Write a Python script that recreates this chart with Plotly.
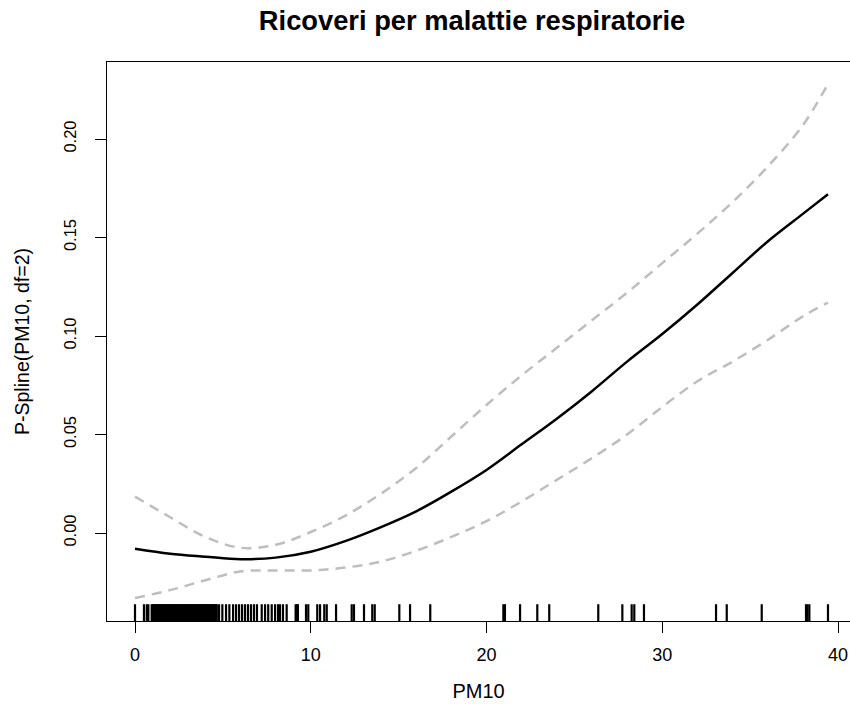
import plotly.graph_objects as go

# Smooth term for PM10 (penalised spline, df=2) with pointwise confidence band
pm10_grid = [0, 2, 4, 6, 8, 10, 12, 14, 16, 18, 20, 22, 24, 26, 28, 30, 32, 34, 36, 38, 39.43]
fit = [-0.0080, -0.0105, -0.0120, -0.0133, -0.0125, -0.0095, -0.0040, 0.0030, 0.0110, 0.0210,
       0.0320, 0.0450, 0.0580, 0.0720, 0.0870, 0.1010, 0.1160, 0.1320, 0.1480, 0.1620, 0.1720]
upper = [0.0185, 0.0080, -0.0020, -0.0075, -0.0060, 0.0005, 0.0090, 0.0200, 0.0330, 0.0490,
         0.0650, 0.0800, 0.0940, 0.1080, 0.1220, 0.1370, 0.1520, 0.1680, 0.1860, 0.2070, 0.2280]
lower = [-0.0330, -0.0290, -0.0240, -0.0195, -0.0190, -0.0190, -0.0175, -0.0145, -0.0090, -0.0020,
         0.0060, 0.0160, 0.0270, 0.0380, 0.0500, 0.0640, 0.0770, 0.0870, 0.0980, 0.1100, 0.1170]

# Observed PM10 values (rug)
pm10_obs = [0.00, 0.51, 0.67, 0.76, 0.95,
            1.02, 1.07, 1.12, 1.16, 1.21, 1.26, 1.31, 1.36, 1.40, 1.45, 1.50, 1.55, 1.60, 1.64,
            1.69, 1.74, 1.79, 1.84, 1.88, 1.93, 1.98, 2.03, 2.08, 2.12, 2.17, 2.22, 2.27, 2.32,
            2.36, 2.41, 2.46, 2.51, 2.56, 2.60, 2.65, 2.70, 2.75, 2.80, 2.84, 2.89, 2.94, 2.99,
            3.04, 3.08, 3.13, 3.18, 3.23, 3.28, 3.32, 3.37, 3.42, 3.47, 3.52, 3.56, 3.61, 3.66,
            3.71, 3.76, 3.80, 3.85, 3.90, 3.95, 4.00, 4.04, 4.09, 4.14, 4.19, 4.24, 4.28, 4.33,
            4.38, 4.43, 4.48, 4.52, 4.57, 4.62, 4.65,
            4.78, 4.97, 5.18, 5.37, 5.58, 5.75, 5.92, 6.09, 6.26, 6.43, 6.60, 6.77, 6.94,
            7.21, 7.40, 7.58, 7.78, 7.97, 8.14, 8.25, 8.42, 8.63, 9.14, 9.22, 9.27, 9.73, 9.86,
            10.37, 10.53, 10.77, 10.91, 11.44, 12.33, 12.46, 13.03, 13.50, 13.64, 15.04, 15.65,
            16.80, 20.96, 21.05, 21.91, 22.89, 23.57, 26.36, 27.73, 28.26, 28.41, 28.96, 33.06,
            33.67, 35.66, 38.18, 38.26, 38.37, 39.43]

y_ticks = [0.00, 0.05, 0.10, 0.15, 0.20]
x_ticks = [0, 10, 20, 30, 40]

x_range = [-1.593, 40.683]
y_range = [-0.04467, 0.2391]

# rug ticks rise 3% of the plot height from the bottom edge
rug_top = y_range[0] + 0.03 * (y_range[1] - y_range[0])
rug_x, rug_y = [], []
for v in pm10_obs:
    rug_x += [v, v, None]
    rug_y += [y_range[0], rug_top, None]

FONT = "Liberation Sans, Arial, sans-serif"
band_line = dict(color="#BEBEBE", width=2.5, dash="10px,7px", shape="spline", smoothing=1.0)

fig = go.Figure()
fig.add_trace(go.Scatter(x=pm10_grid, y=upper, mode="lines", line=band_line, hoverinfo="skip"))
fig.add_trace(go.Scatter(x=pm10_grid, y=lower, mode="lines", line=band_line, hoverinfo="skip"))
fig.add_trace(go.Scatter(x=pm10_grid, y=fit, mode="lines",
                         line=dict(color="black", width=2.5, shape="spline", smoothing=1.0)))
fig.add_trace(go.Scatter(x=rug_x, y=rug_y, mode="lines", connectgaps=False,
                         line=dict(color="black", width=2.2, simplify=False), hoverinfo="skip"))

fig.update_layout(
    width=850, height=709,
    margin=dict(l=107, r=0, t=62, b=88),
    paper_bgcolor="white", plot_bgcolor="white",
    showlegend=False,
    font=dict(family=FONT, color="black"),
    title=dict(text="Ricoveri per malattie respiratorie",
               font=dict(family=FONT, size=27.3, weight="bold", color="black"),
               x=472 / 850, xref="container", xanchor="center",
               y=1 - 20 / 709, yref="container", yanchor="middle"),
    xaxis=dict(range=x_range, tickvals=x_ticks, ticktext=[str(t) for t in x_ticks],
               ticks="outside", ticklen=11, tickwidth=1, tickcolor="black",
               showline=True, linecolor="black", linewidth=1, mirror=True,
               showgrid=False, zeroline=False, ticklabelstandoff=6,
               tickfont=dict(size=18, family=FONT, color="black"),
               title=dict(text="PM10", font=dict(size=20, family=FONT, color="black"), standoff=20)),
    yaxis=dict(range=y_range, tickvals=y_ticks, ticktext=[f"{t:.2f}" for t in y_ticks],
               tickangle=-90,
               ticks="outside", ticklen=11, tickwidth=1, tickcolor="black",
               showline=True, linecolor="black", linewidth=1, mirror=False,
               showgrid=False, zeroline=False, ticklabelstandoff=12,
               tickfont=dict(size=16.5, family=FONT, color="black"),
               title=dict(text="P-Spline(PM10, df=2)", font=dict(size=19.5, family=FONT, color="black"),
                          standoff=26)),
)

fig.write_html("out.html")
